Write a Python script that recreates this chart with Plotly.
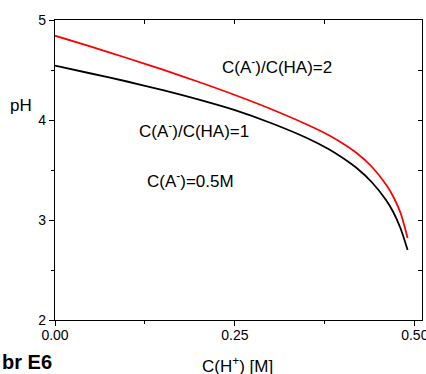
import plotly.graph_objects as go

# Data
c_h = [0.0, 0.05, 0.10, 0.15, 0.20, 0.25, 0.30, 0.35, 0.38, 0.40, 0.42, 0.44, 0.46, 0.47, 0.48, 0.49]
ph_ratio1 = [4.543, 4.465, 4.385, 4.298, 4.203, 4.098, 3.97, 3.82, 3.71, 3.62, 3.515, 3.38, 3.20, 3.08, 2.92, 2.70]
ph_ratio2 = [4.843, 4.733, 4.62, 4.503, 4.38, 4.25, 4.11, 3.955, 3.85, 3.765, 3.665, 3.535, 3.355, 3.235, 3.075, 2.82]

x_ticks = [0.0, 0.25, 0.5]
x_ticklabels = ["0.00", "0.25", "0.50"]
y_ticks = [2, 3, 4, 5]
y_ticklabels = ["2", "3", "4", "5"]

FONT = "Liberation Sans, Arial, sans-serif"

fig = go.Figure()
fig.add_trace(go.Scatter(x=c_h, y=ph_ratio2, mode="lines",
                         line=dict(color="#ff0000", width=1.8, shape="spline", smoothing=0.8),
                         showlegend=False, hoverinfo="skip"))
fig.add_trace(go.Scatter(x=c_h, y=ph_ratio1, mode="lines",
                         line=dict(color="#000000", width=1.8, shape="spline", smoothing=0.8),
                         showlegend=False, hoverinfo="skip"))
# invisible trace to anchor mirror axes
fig.add_trace(go.Scatter(x=[c_h[0]], y=[ph_ratio1[0]], xaxis="x2", yaxis="y2",
                         mode="markers", marker=dict(opacity=0), showlegend=False, hoverinfo="skip"))

xr = [0, 0.51]
yr = [2, 5]

fig.update_layout(
    width=426, height=374,
    margin=dict(l=55, r=4, t=20, b=54),
    paper_bgcolor="white", plot_bgcolor="white",
    font=dict(family=FONT, color="black", size=14),
    xaxis=dict(range=xr, tickvals=x_ticks, ticktext=x_ticklabels, ticks="outside", ticklen=5,
               tickwidth=1, tickcolor="black", showline=True, linecolor="black", linewidth=1.2,
               showgrid=False, zeroline=False, automargin=False, ticklabeloverflow="allow",
               ticklabelstandoff=-3,
               tickfont=dict(size=14, family=FONT),
               minor=dict(tickvals=[0.125, 0.375], ticks="outside", ticklen=3, tickcolor="black")),
    yaxis=dict(range=yr, tickvals=y_ticks, ticktext=y_ticklabels, ticks="outside", ticklen=5,
               tickwidth=1, tickcolor="black", showline=True, linecolor="black", linewidth=1.2,
               showgrid=False, zeroline=False, automargin=False, ticklabeloverflow="allow",
               tickfont=dict(size=14, family=FONT),
               minor=dict(tickvals=[2.5, 3.5, 4.5], ticks="outside", ticklen=3, tickcolor="black")),
    xaxis2=dict(range=xr, overlaying="x", side="top", anchor="y2", tickvals=[0.125, 0.25, 0.375],
                ticks="inside", ticklen=4, tickcolor="black", showticklabels=False,
                showline=True, linecolor="black", linewidth=1.2, showgrid=False, zeroline=False),
    yaxis2=dict(range=yr, overlaying="y", side="right", anchor="x2", tickvals=[2.5, 3, 3.5, 4, 4.5],
                ticks="inside", ticklen=4, tickcolor="black", showticklabels=False,
                showline=True, linecolor="black", linewidth=1.2, showgrid=False, zeroline=False),
)

ann = [
    dict(text="C(A<sup>-</sup>)/C(HA)=2", x=0.4496, y=0.847, xanchor="left", yanchor="middle", size=17),
    dict(text="C(A<sup>-</sup>)/C(HA)=1", x=0.2243, y=0.633, xanchor="left", yanchor="middle", size=17),
    dict(text="C(A<sup>-</sup>)=0.5M", x=0.2452, y=0.467, xanchor="left", yanchor="middle", size=17),
    dict(text="pH", x=-0.0926, y=0.715, xanchor="center", yanchor="middle", size=17),
    dict(text="C(H<sup>+</sup>) [M]", x=0.497, y=-0.15, xanchor="center", yanchor="middle", size=17),
    dict(text="<b>br E6</b>", x=-0.1499, y=-0.14, xanchor="left", yanchor="middle", size=20),
]
for a in ann:
    fig.add_annotation(text=a["text"], x=a["x"], y=a["y"], xref="paper", yref="paper",
                       xanchor=a["xanchor"], yanchor=a["yanchor"], showarrow=False,
                       font=dict(size=a["size"], family=FONT, color="black"))

fig.write_html("out.html")
